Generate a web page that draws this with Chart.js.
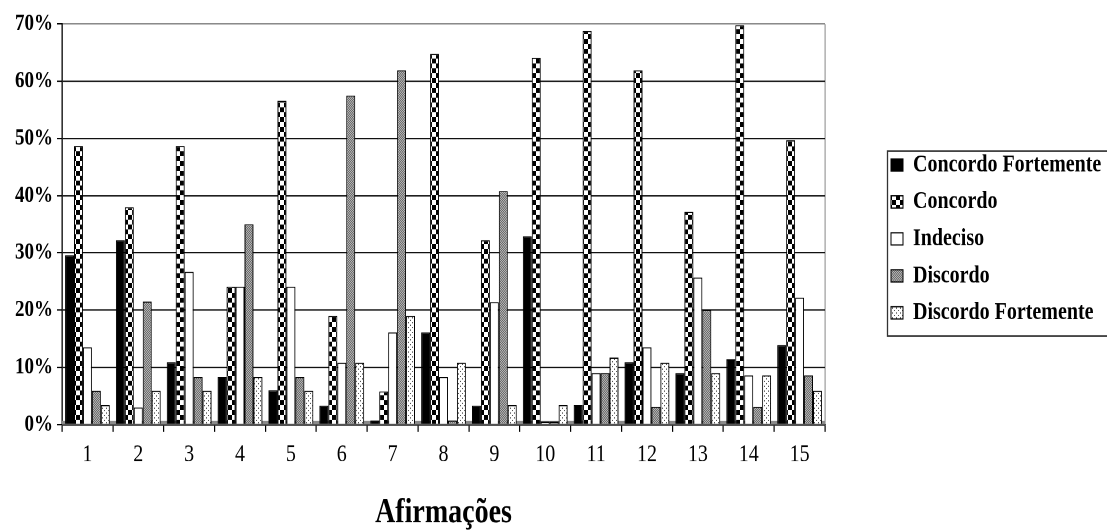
<!DOCTYPE html>
<html>
<head>
<meta charset="utf-8">
<script src="https://cdn.jsdelivr.net/npm/chart.js@4.4.1/dist/chart.umd.min.js"></script>
<style>
html,body{margin:0;padding:0;background:#fff;overflow:hidden}
</style>
</head>
<body>
<canvas id="c" width="1107" height="436" style="display:block;width:1107px;height:532px"></canvas>
<script>
// ---- data ----
const categories = ['1','2','3','4','5','6','7','8','9','10','11','12','13','14','15'];
const seriesNames = ['Concordo Fortemente','Concordo','Indeciso','Discordo','Discordo Fortemente'];
const concordoFortemente = [29.6,32.2,10.9,8.3,6.0,3.3,0.7,16.1,3.3,32.9,3.4,10.9,9.0,11.4,13.9];
const concordo           = [48.7,38.0,48.7,24.1,56.6,19.0,5.8,64.8,32.2,64.1,68.8,61.9,37.2,69.8,49.7];
const indeciso           = [13.5,3.0,26.7,24.1,24.1,10.8,16.1,8.3,21.4,0.5,9.0,13.5,25.7,8.6,22.2];
const discordo           = [5.9,21.5,8.3,35.0,8.3,57.5,61.9,0.7,40.8,0.5,9.0,3.1,20.0,3.1,8.6];
const discordoFortemente = [3.4,5.9,5.9,8.3,5.9,10.8,19.0,10.8,3.4,3.4,11.7,10.8,9.0,8.6,5.9];
const yMin = 0, yMax = 70, yStep = 10;
const axisTitle = 'Afirmações';

// ---- fill patterns (tiles in device pixels, DPR 2) ----
const DPR = 2;
function makePattern(size, draw) {
  const c = document.createElement('canvas');
  c.width = size; c.height = size;
  const g = c.getContext('2d');
  draw(g);
  const p = g.createPattern(c, 'repeat');
  if (p.setTransform) p.setTransform(new DOMMatrix().scale(1 / DPR));
  return p;
}
const fillSolid = '#000000';
const fillChecker = makePattern(16, g => {
  g.fillStyle = '#fff'; g.fillRect(0, 0, 16, 16);
  g.fillStyle = '#000'; g.fillRect(0, 0, 8, 8); g.fillRect(8, 8, 8, 8);
});
const fillWhite = '#ffffff';
const fillGray = makePattern(4, g => {
  g.fillStyle = '#b4b4b4'; g.fillRect(0, 0, 4, 4);
  g.fillStyle = '#6a6a6a'; g.fillRect(0, 0, 2, 2); g.fillRect(2, 2, 2, 2);
});
const fillDots = makePattern(8, g => {
  g.fillStyle = '#fff'; g.fillRect(0, 0, 8, 8);
  g.fillStyle = '#555'; g.fillRect(0, 0, 2, 2); g.fillRect(4, 4, 2, 2);
});

const seriesValues = [concordoFortemente, concordo, indeciso, discordo, discordoFortemente];
const seriesFills = [fillSolid, fillChecker, fillWhite, fillGray, fillDots];

const FONT = 'Liberation Serif';

const decor = {
  id: 'decor',
  beforeLayout(chart) {
    const lg = chart.legend;
    if (lg && !lg.__fixedWidth) {
      const fit = lg.fit;
      lg.fit = function () { fit.call(this); this.width = 282; };
      lg.__fixedWidth = true;
    }
  },
  afterLayout(chart) {
    const lg = chart.legend;
    if (!lg) return;
    const dx = 880.7 - lg.left, dy = 114.9 - lg.top;
    lg.left += dx; lg.right += dx; lg.top += dy; lg.bottom += dy;
  },
  beforeDatasetsDraw(chart) {
    const a = chart.chartArea, ctx = chart.ctx;
    ctx.save();
    ctx.fillStyle = '#8a8a8a';
    ctx.fillRect(a.left, a.bottom - 3, a.right - a.left, 3);
    ctx.restore();
  },
  afterDraw(chart) {
    const ctx = chart.ctx;
    ctx.save();
    ctx.strokeStyle = '#333';
    ctx.lineWidth = 1.3;
    ctx.strokeRect(887.5, 123.8, 240, 151.5);
    ctx.restore();
  }
};

new Chart(document.getElementById('c'), {
  type: 'bar',
  data: {
    labels: categories,
    datasets: seriesNames.map((name, i) => ({
      label: name,
      data: seriesValues[i],
      backgroundColor: seriesFills[i],
      borderColor: '#000',
      borderWidth: 1
    }))
  },
  options: {
    responsive: false,
    animation: false,
    devicePixelRatio: DPR,
    layout: { padding: { top: 19.7, left: 0, right: 0, bottom: 0 } },
    datasets: { bar: { categoryPercentage: 0.88, barPercentage: 1.0 } },
    scales: {
      x: {
        grid: {
          offset: true,
          drawOnChartArea: true,
          color: c => c.type === 'scale' ? '#9a9a9a' : 'rgba(0,0,0,0)',
          tickColor: '#000',
          tickLength: 6,
          lineWidth: 1.2
        },
        border: { color: '#000', width: 1.2 },
        ticks: { color: '#000', padding: 7, maxRotation: 0, autoSkip: false,
                 font: { family: FONT, size: 20, weight: 'normal' } },
        title: { display: true, text: axisTitle, color: '#000',
                 font: { family: FONT, size: 28, weight: 'bold', lineHeight: 1.1 },
                 padding: { top: 0, bottom: 0 } },
        afterFit: s => { s.height = 88.1; }
      },
      y: {
        min: yMin, max: yMax,
        ticks: { stepSize: yStep, color: '#000', padding: 4,
                 callback: v => v + '%',
                 font: { family: FONT, size: 19, weight: 'bold' } },
        grid: {
          color: c => (c.tick && c.tick.value === yMax) ? '#8a8a8a' : '#111',
          lineWidth: 1.1,
          tickLength: 5,
          tickColor: '#000'
        },
        border: { color: '#000', width: 1.3 },
        afterFit: s => { s.width = 62; }
      }
    },
    plugins: {
      legend: {
        position: 'right',
        align: 'start',
        labels: {
          boxWidth: 12, boxHeight: 10, padding: 10.3, color: '#000',
          font: { family: FONT, size: 20, weight: 'bold' }
        }
      },
      tooltip: { enabled: false }
    }
  },
  plugins: [decor]
});
</script>
</body>
</html>
